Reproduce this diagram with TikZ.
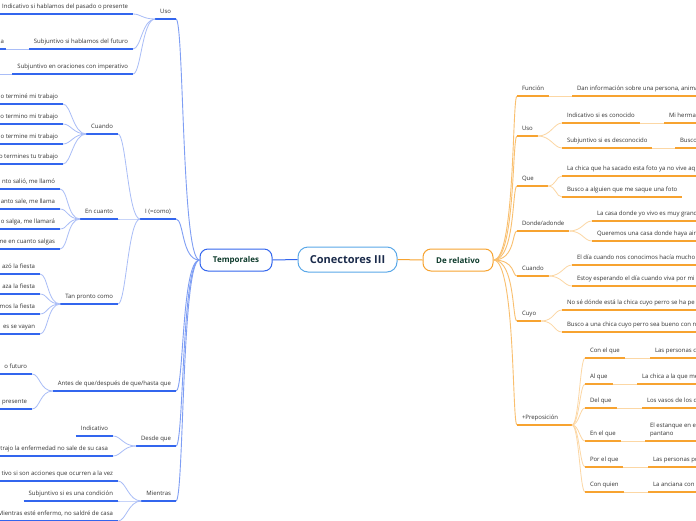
\documentclass[tikz,border=0pt]{standalone}
\usepackage{fontspec}
\setmainfont{Open Sans}
\definecolor{bD}{HTML}{3366EE}
\definecolor{bM}{HTML}{7E9EF4}
\definecolor{bL}{HTML}{A9BDF7}
\definecolor{oD}{HTML}{F7A330}
\definecolor{oM}{HTML}{F9BF6E}
\definecolor{oL}{HTML}{FCD7A4}
\definecolor{txt}{HTML}{333333}
\definecolor{hd}{HTML}{0E3B2C}
\definecolor{navy}{HTML}{1B2B4B}
\definecolor{cB}{HTML}{5AA8E8}
\tikzset{
 lbl/.style={font=\fontsize{6}{7}\selectfont, text=txt, inner xsep=5pt, inner ysep=4pt, text height=4.4pt, text depth=1.4pt, outer sep=0pt},
 lbll/.style={lbl, anchor=south east},
 lblr/.style={lbl, anchor=south west},
 ulB/.style={draw=bD, line width=1.5pt},
 ulO/.style={draw=oD, line width=1.5pt},
 cnB/.style={draw=bL, line width=0.8pt},
 cnO/.style={draw=oL, line width=0.8pt},
 spB/.style={draw=bM, line width=0.9pt},
 spO/.style={draw=oM, line width=0.9pt},
 mainbox/.style={draw, rounded corners=8pt, line width=1pt, fill=white, minimum height=22pt, inner sep=0pt, font=\bfseries\fontsize{8}{9}\selectfont, text=hd}
}
\newcommand\curveL[2]{\draw[cnB] (#1.south west) .. controls +(-13,0) and +(8,0) .. (#2.south east);}
\newcommand\curveR[2]{\draw[cnO] (#1.south east) .. controls +(13,0) and +(-8,0) .. (#2.south west);}
\begin{document}
\begin{tikzpicture}[x=1pt,y=-1pt]
\useasboundingbox (0,0) rectangle (696,520);
\clip (0,0) rectangle (696,520);
\fill[white] (0,0) rectangle (696,520);

% ---------- main nodes ----------
\node[mainbox, draw=bD, minimum width=72pt] (tmp) at (236,260) {Temporales};
\node[mainbox, draw=cB, minimum width=99pt, minimum height=25pt, rounded corners=10pt, font=\bfseries\fontsize{11}{12}\selectfont, text=navy] (ctr) at (347.5,259.5) {Conectores III};
\node[mainbox, draw=oD, minimum width=70pt] (rel) at (458,260) {De relativo};
\draw[bD, line width=1pt] (ctr.west) -- (tmp.east);
\draw[oD, line width=1pt] (ctr.east) -- (rel.west);

% ---------- LEFT: level 1 ----------
\node[lbll] (uso) at (176,19) {Uso};
\node[lbll] (como) at (176,219) {I (=como)};
\node[lbll] (antes) at (176,391) {Antes de que/después de que/hasta que};
\node[lbll] (desde) at (176,446) {Desde que};
\node[lbll] (mient) at (176,501) {Mientras};
\foreach \n in {uso,como,antes,desde,mient}{
  \draw[spB] (tmp.west) .. controls +(-18,0) and +(8,0) .. (\n.south east);
  \draw[ulB] (\n.south west) -- (\n.south east);
}

% Uso
\node[lbll] (u1) at (133,14) {Indicativo si hablamos del pasado o presente};
\node[lbll] (u2) at (133,49) {Subjuntivo si hablamos del futuro};
\node[lbll, inner xsep=2pt] (u2a) at (6,49) {a};
\node[lbll] (u3) at (133,74) {Subjuntivo en oraciones con imperativo};
\coordinate (u3x) at (-20,74);
\draw[ulB] (u1.south east) -- ++(-160,0);
\draw[ulB] (u2.south west) -- (u2.south east);
\draw[ulB] (u2a.south east) -- ++(-30,0);
\draw[ulB] (u3.south west) -- (u3.south east);
\draw[cnB] (u2.south west) -- (u2a.south east);
\draw[cnB] (u3.south west) -- (u3x);
\foreach \n in {u1,u2,u3}{\curveL{uso}{\n}}

% I (=como)
\node[lbll] (cua) at (118,134) {Cuando};
\node[lbll] (enc) at (118,219) {En cuanto};
\node[lbll] (tan) at (118,304) {Tan pronto como};
\foreach \n in {cua,enc,tan}{
  \draw[cnB] (como.south west) .. controls +(-12,0) and +(8,0) .. (\n.south east);
  \draw[ulB] (\n.south west) -- (\n.south east);
}

% Cuando children
\node[lbll] (cu1) at (63,104) {do terminé mi trabajo};
\node[lbll] (cu2) at (63,124) {do termino mi trabajo};
\node[lbll] (cu3) at (63,144) {do termine mi trabajo};
\node[lbll] (cu4) at (63,164) {o termines tu trabajo};
\foreach \n in {cu1,cu2,cu3,cu4}{\curveL{cua}{\n}\draw[ulB] (\n.south east) -- ++(-100,0);}

% En cuanto children
\node[lbll] (en1) at (60,189) {nto salió, me llamó};
\node[lbll] (en2) at (60,209) {anto sale, me llama};
\node[lbll] (en3) at (60,229) {o salga, me llamará};
\node[lbll] (en4) at (60,249) {me en cuanto salgas};
\foreach \n in {en1,en2,en3,en4}{\curveL{enc}{\n}\draw[ulB] (\n.south east) -- ++(-100,0);}

% Tan pronto como children
\node[lbll] (tp1) at (40,274) {azó la fiesta};
\node[lbll] (tp2) at (40,294) {aza la fiesta};
\node[lbll] (tp3) at (40,314) {mos la fiesta};
\node[lbll] (tp4) at (40,334) {es se vayan};
\foreach \n in {tp1,tp2,tp3,tp4}{\curveL{tan}{\n}\draw[ulB] (\n.south east) -- ++(-100,0);}

% Antes children
\node[lbll] (an1) at (32,374) {o futuro};
\node[lbll] (an2) at (32,409) {presente};
\foreach \n in {an1,an2}{\curveL{antes}{\n}\draw[ulB] (\n.south east) -- ++(-100,0);}

% Desde que children
\node[lbll] (de1) at (113,436) {Indicativo};
\node[lbll] (de2) at (113,456) {trajo la enfermedad no sale de su casa};
\curveL{desde}{de1}\curveL{desde}{de2}
\draw[ulB] (de1.south west) -- (de1.south east);
\draw[ulB] (de2.south east) -- ++(-150,0);

% Mientras children
\node[lbll] (mi1) at (118,481) {tivo si son acciones que ocurren a la vez};
\node[lbll] (mi2) at (118,501) {Subjuntivo si es una condición};
\node[lbll] (mi3) at (118,521) {Mientras esté enfermo, no saldré de casa};
\foreach \n in {mi1,mi2,mi3}{\curveL{mient}{\n}}
\draw[ulB] (mi1.south east) -- ++(-150,0);
\draw[ulB] (mi2.south west) -- (mi2.south east);
\draw[ulB] (mi3.south east) -- ++(-150,0);

% ---------- RIGHT: level 1 ----------
\node[lblr] (fun) at (517,96) {Función};
\node[lblr] (usoR) at (517,136) {Uso};
\node[lblr] (que) at (517,186) {Que};
\node[lblr] (don) at (517,231) {Donde/adonde};
\node[lblr] (cuaR) at (517,276) {Cuando};
\node[lblr] (cuyo) at (517,321) {Cuyo};
\node[lblr] (prep) at (517,425) {+Preposición};
\foreach \n in {fun,usoR,que,don,cuaR,cuyo,prep}{
  \draw[spO] (rel.east) .. controls +(22,0) and +(-5,0) .. (\n.south west);
}
\foreach \n in {fun,usoR,don,cuaR,cuyo}{
  \draw[ulO] (\n.south west) -- (\n.south east);
}
\path (que.south west) ++(31,0) coordinate (queE);
\path (prep.south west) ++(55,0) coordinate (prepE);
\draw[ulO] (que.south west) -- (queE);
\draw[ulO] (prep.south west) -- (prepE);

% Funcion
\node[lblr] (fun1) at (572,96) {Dan información sobre una persona, anima};
\draw[cnO] (fun.south east) -- (fun1.south west);
\draw[ulO] (fun1.south west) -- ++(200,0);

% Uso
\node[lblr] (ur1) at (562,123) {Indicativo si es conocido};
\node[lblr] (ur1a) at (664,123) {Mi herman};
\node[lblr] (ur2) at (562,148) {Subjuntivo si es desconocido};
\node[lblr] (ur2a) at (675,148) {Busco};
\curveR{usoR}{ur1}\curveR{usoR}{ur2}
\draw[ulO] (ur1.south west) -- (ur1.south east);
\draw[ulO] (ur2.south west) -- (ur2.south east);
\draw[cnO] (ur1.south east) -- (ur1a.south west);
\draw[cnO] (ur2.south east) -- (ur2a.south west);
\draw[ulO] (ur1a.south west) -- ++(100,0);
\draw[ulO] (ur2a.south west) -- ++(100,0);

% Que
\node[lblr] (q1) at (562,176) {La chica que ha sacado esta foto ya no vive aq};
\node[lblr] (q2) at (562,197) {Busco a alguien que me saque una foto};
\foreach \n in {q1,q2}{\draw[cnO] (queE) .. controls +(8,0) and +(-6,0) .. (\n.south west);}
\draw[ulO] (q1.south west) -- ++(200,0);
\draw[ulO] (q2.south west) -- (q2.south east);

% Donde
\node[lblr] (d1) at (592,221) {La casa donde yo vivo es muy grand};
\node[lblr] (d2) at (592,241) {Queremos una casa donde haya air};
\curveR{don}{d1}\curveR{don}{d2}
\draw[ulO] (d1.south west) -- ++(200,0);
\draw[ulO] (d2.south west) -- ++(200,0);

% Cuando
\node[lblr] (c1) at (572,265) {El día cuando nos conocimos hacía mucho};
\node[lblr] (c2) at (572,286) {Estoy esperando el día cuando viva por mi};
\curveR{cuaR}{c1}\curveR{cuaR}{c2}
\draw[ulO] (c1.south west) -- ++(200,0);
\draw[ulO] (c2.south west) -- ++(200,0);

% Cuyo
\node[lblr] (y1) at (562,310) {No sé dónde está la chica cuyo perro se ha pe};
\node[lblr] (y2) at (562,332) {Busco a una chica cuyo perro sea bueno con n};
\curveR{cuyo}{y1}\curveR{cuyo}{y2}
\draw[ulO] (y1.south west) -- ++(200,0);
\draw[ulO] (y2.south west) -- ++(200,0);

% +Preposicion
\node[lblr] (p1) at (585,358) {Con el que};
\node[lblr] (p2) at (585,384) {Al que};
\node[lblr] (p3) at (585,408) {Del que};
\node[lblr] (p4) at (585,441) {En el que};
\node[lblr] (p5) at (585,467) {Por el que};
\node[lblr] (p6) at (585,492) {Con quien};
\node[lblr] (p1a) at (650,358) {Las personas co};
\node[lblr] (p2a) at (637,384) {La chica a la que me};
\node[lblr] (p3a) at (642,408) {Los vasos de los q};
\node[lbl, anchor=south west, text height=, text depth=, align=left, font=\fontsize{6}{8}\selectfont] (p4a) at (645,441) {El estanque en e\\pantano};
\node[lblr] (p5a) at (648,467) {Las personas po};
\node[lblr] (p6a) at (648,492) {La anciana con};
\foreach \n in {p1,p2,p3,p4,p5,p6}{
  \draw[cnO] (prepE) .. controls +(7,0) and +(-5,0) .. (\n.south west);
  \draw[ulO] (\n.south west) -- (\n.south east);
  \draw[cnO] (\n.south east) -- (\n a.south west);
  \draw[ulO] (\n a.south west) -- ++(100,0);
}
\end{tikzpicture}
\end{document}
